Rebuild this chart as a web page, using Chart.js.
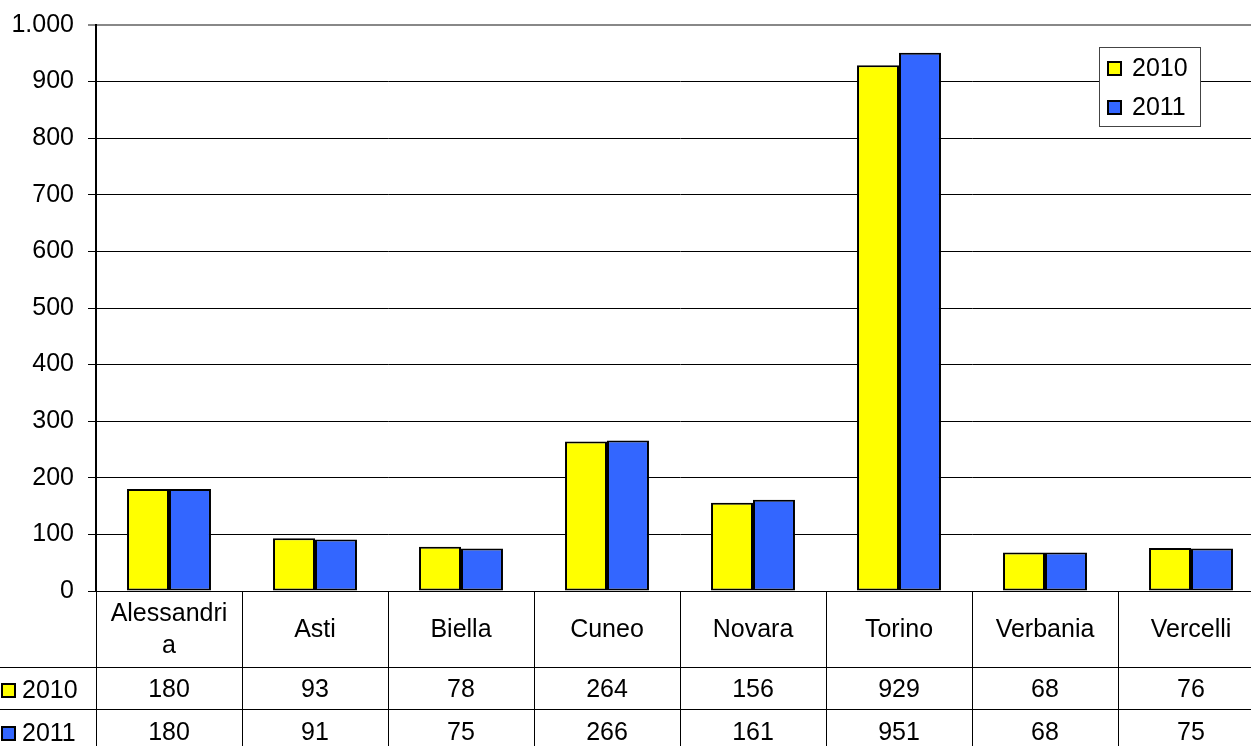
<!DOCTYPE html>
<html>
<head>
<meta charset="utf-8">
<script src="https://cdn.jsdelivr.net/npm/chart.js@4.4.0/dist/chart.umd.min.js"></script>
<style>
  html, body { margin: 0; padding: 0; background: #fff; overflow: hidden; }
  #chart { display: block; }
</style>
</head>
<body>
<canvas id="chart" width="1264" height="746"></canvas>
<script>
// Dati: province del Piemonte, 2010 vs 2011
const categories = ['Alessandria', 'Asti', 'Biella', 'Cuneo', 'Novara', 'Torino', 'Verbania', 'Vercelli'];
const headerLines = [['Alessandri', 'a'], ['Asti'], ['Biella'], ['Cuneo'], ['Novara'], ['Torino'], ['Verbania'], ['Vercelli']];
const values2010 = [180, 93, 78, 264, 156, 929, 68, 76];
const values2011 = [180, 91, 75, 266, 161, 951, 68, 75];
const seriesLabels = ['2010', '2011'];
const seriesColors = ['#ffff00', '#3366ff'];

const FONT = 'Arial, "Liberation Sans", sans-serif';
const FSIZE = 25;
const fmt = v => String(v).replace(/\B(?=(\d{3})+(?!\d))/g, '.');

// --- tabella dati sotto il grafico + legenda ---
const tablePlugin = {
    id: 'dataTable',
    afterDraw(chart) {
        const ctx = chart.ctx;
        const x = chart.scales.x;
        const area = chart.chartArea;
        const H = chart.height;
        const rowHead = area.bottom + 76;
        const row1 = rowHead + 42;
        const half = (x.getPixelForValue(1) - x.getPixelForValue(0)) / 2;

        ctx.save();
        ctx.strokeStyle = '#000';
        ctx.lineWidth = 1;
        // linee verticali
        ctx.beginPath();
        ctx.moveTo(area.left + 0.5, area.bottom);
        ctx.lineTo(area.left + 0.5, H);
        categories.forEach((c, i) => {
            const bx = Math.round(x.getPixelForValue(i) + half) + 0.5;
            ctx.moveTo(bx, area.bottom);
            ctx.lineTo(bx, H);
        });
        // linee orizzontali
        ctx.moveTo(area.left, area.bottom + 0.5);
        ctx.lineTo(chart.width, area.bottom + 0.5);
        ctx.moveTo(0, rowHead + 0.5);
        ctx.lineTo(chart.width, rowHead + 0.5);
        ctx.moveTo(0, row1 + 0.5);
        ctx.lineTo(chart.width, row1 + 0.5);
        ctx.stroke();

        ctx.fillStyle = '#000';
        ctx.font = FSIZE + 'px ' + FONT;
        ctx.textAlign = 'center';
        ctx.textBaseline = 'middle';
        headerLines.forEach((lines, i) => {
            const cx = x.getPixelForValue(i);
            const mid = (area.bottom + rowHead) / 2 + 1;
            if (lines.length === 1) {
                ctx.fillText(lines[0], cx, mid);
            } else {
                ctx.fillText(lines[0], cx, mid - 16);
                ctx.fillText(lines[1], cx, mid + 16);
            }
        });
        const rows = [values2010, values2011];
        const rowMids = [rowHead + 23, row1 + 24];
        rows.forEach((vals, r) => {
            vals.forEach((v, i) => ctx.fillText(fmt(v), x.getPixelForValue(i), rowMids[r]));
            // chiave legenda nella riga
            ctx.fillStyle = seriesColors[r];
            ctx.fillRect(1, rowMids[r] - 7, 15, 15);
            ctx.lineWidth = 2;
            ctx.strokeRect(2, rowMids[r] - 6, 13, 13);
            ctx.lineWidth = 1;
            ctx.fillStyle = '#000';
            ctx.textAlign = 'left';
            ctx.fillText(seriesLabels[r], 22, rowMids[r] + 1);
            ctx.textAlign = 'center';
        });

        // legenda in alto a destra
        const lx = 1099, ly = 47, lw = 101, lh = 79;
        ctx.fillStyle = '#fff';
        ctx.fillRect(lx, ly, lw, lh);
        ctx.strokeStyle = '#444';
        ctx.strokeRect(lx + 0.5, ly + 0.5, lw, lh);
        ctx.strokeStyle = '#000';
        ctx.textAlign = 'left';
        seriesLabels.forEach((lab, i) => {
            const yy = ly + 21 + i * 39;
            ctx.fillStyle = seriesColors[i];
            ctx.fillRect(lx + 8, yy - 7, 15, 15);
            ctx.lineWidth = 2;
            ctx.strokeRect(lx + 9, yy - 6, 13, 13);
            ctx.fillStyle = '#000';
            ctx.fillText(lab, lx + 33, yy + 1);
        });
        ctx.restore();
    }
};

new Chart(document.getElementById('chart'), {
    type: 'bar',
    data: {
        labels: categories,
        datasets: [
            { label: seriesLabels[0], data: values2010, backgroundColor: seriesColors[0] },
            { label: seriesLabels[1], data: values2011, backgroundColor: seriesColors[1] }
        ]
    },
    options: {
        responsive: false,
        animation: false,
        devicePixelRatio: 1,
        layout: { padding: { left: 0, top: 25, right: 0, bottom: 155 } },
        datasets: {
            bar: {
                borderColor: '#000',
                borderWidth: 2,
                borderSkipped: false,
                categoryPercentage: 0.575,
                barPercentage: 1
            }
        },
        plugins: {
            legend: { display: false },
            tooltip: { enabled: false }
        },
        scales: {
            x: { display: false },
            y: {
                min: 0,
                max: 1000,
                afterFit(scale) {
                    scale.width = 96;
                    scale.paddingTop = 0;
                    scale.paddingBottom = 0;
                },
                border: { color: '#000', width: 2 },
                grid: {
                    color: c => c.tick && c.tick.value === 1000 ? '#888' : '#000',
                    lineWidth: c => c.tick && c.tick.value === 1000 ? 2 : 1,
                    tickLength: 8
                },
                ticks: {
                    stepSize: 100,
                    color: '#000',
                    padding: 14,
                    font: { size: FSIZE, family: FONT },
                    callback: v => fmt(v)
                }
            }
        }
    },
    plugins: [tablePlugin]
});
</script>
</body>
</html>
